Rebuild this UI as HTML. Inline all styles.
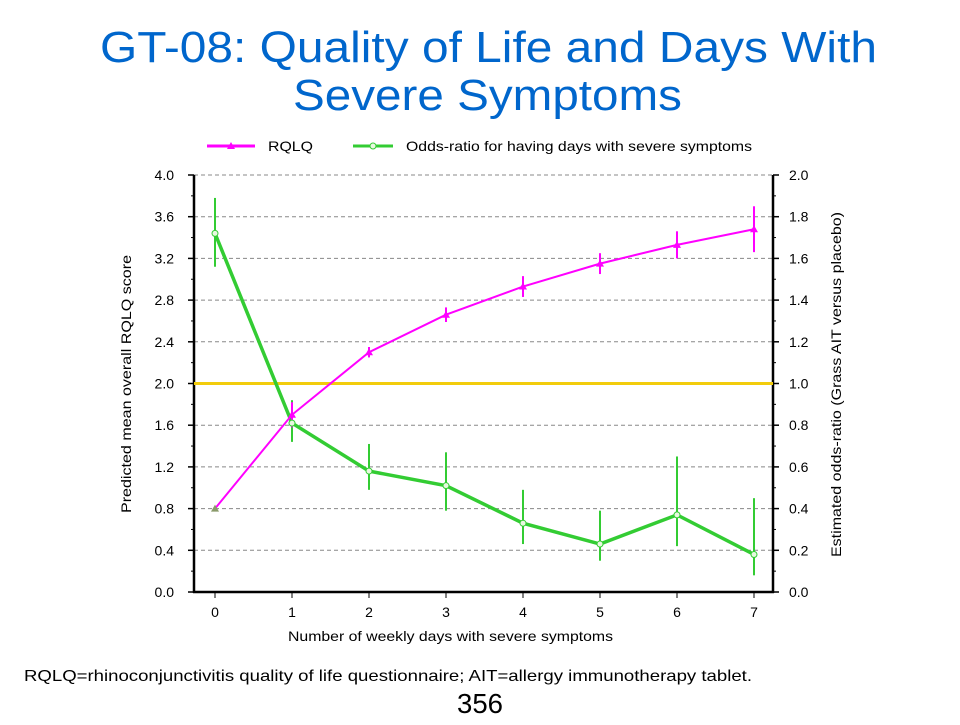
<!DOCTYPE html>
<html><head><meta charset="utf-8">
<style>
html,body{margin:0;padding:0;background:#fff;}
body{width:960px;height:720px;overflow:hidden;position:relative;font-family:"Liberation Sans",Arial,sans-serif;}
</style></head>
<body>
<svg id="chart" width="960" height="720" xmlns="http://www.w3.org/2000/svg" font-family="Liberation Sans, Arial, sans-serif">
<text x="100" y="62" font-size="44" fill="#0066CC" textLength="777" lengthAdjust="spacingAndGlyphs">GT-08: Quality of Life and Days With</text>
<text x="293" y="110" font-size="44" fill="#0066CC" textLength="389" lengthAdjust="spacingAndGlyphs">Severe Symptoms</text>
<g>
 <line x1="207" y1="146" x2="255" y2="146" stroke="#FF00FF" stroke-width="3"/>
 <polygon points="231,142 235,149 227,149" fill="#FF00FF"/>
 <text x="268" y="151" font-size="14" textLength="45" lengthAdjust="spacingAndGlyphs">RQLQ</text>
 <line x1="353" y1="146" x2="393" y2="146" stroke="#33CC33" stroke-width="3"/>
 <circle cx="373" cy="146" r="3" fill="#E8F8E0" stroke="#33CC33"/>
 <text x="406" y="151" font-size="14" textLength="346" lengthAdjust="spacingAndGlyphs">Odds-ratio for having days with severe symptoms</text>
</g>
<g id="grid"></g>
<g id="axes"></g>
<g id="marks"></g>
<text transform="translate(131,513) rotate(-90)" font-size="14" textLength="258" lengthAdjust="spacingAndGlyphs">Predicted mean overall RQLQ score</text>
<text transform="translate(841,557) rotate(-90)" font-size="14" textLength="345" lengthAdjust="spacingAndGlyphs">Estimated odds-ratio (Grass AIT  versus placebo)</text>
<text x="288" y="641" font-size="14" textLength="325" lengthAdjust="spacingAndGlyphs">Number of weekly days with severe symptoms</text>
<text x="24" y="681" font-size="16" textLength="728" lengthAdjust="spacingAndGlyphs">RQLQ=rhinoconjunctivitis quality of life questionnaire; AIT=allergy immunotherapy tablet.</text>
<text x="457" y="713" font-size="28" textLength="46" lengthAdjust="spacingAndGlyphs">356</text>
</svg>
<script>
const categories=[0,1,2,3,4,5,6,7];
const rqlq=[0.8,1.7,2.3,2.66,2.93,3.15,3.33,3.48];
const rqlqErr=[0,0.12,0.05,0.07,0.1,0.1,0.13,0.22];
const odds=[1.72,0.81,0.58,0.51,0.33,0.23,0.37,0.18];
const oddsLow=[1.56,0.72,0.49,0.39,0.23,0.15,0.22,0.08];
const oddsHigh=[1.89,0.92,0.71,0.67,0.49,0.39,0.65,0.45];
const leftTicks=["0.0","0.4","0.8","1.2","1.6","2.0","2.4","2.8","3.2","3.6","4.0"];
const rightTicks=["0.0","0.2","0.4","0.6","0.8","1.0","1.2","1.4","1.6","1.8","2.0"];
const refLine=1.0;

const NS="http://www.w3.org/2000/svg";
const L=194,R=773,T=175,B=592;
const x=c=>215+c*77;
const yl=v=>B-(v/4)*(B-T);
const yr=v=>B-(v/2)*(B-T);
function mk(tag,attrs,parent){const e=document.createElementNS(NS,tag);for(const k in attrs)e.setAttribute(k,attrs[k]);parent.appendChild(e);return e;}
const grid=document.getElementById('grid'),axes=document.getElementById('axes'),marks=document.getElementById('marks');

leftTicks.forEach((t,i)=>{
 const v=parseFloat(t),y=yl(v);
 if(i>0){const g=mk('line',{x1:L,x2:R,y1:y,y2:y,stroke:'#888','stroke-dasharray':'4,3','stroke-width':1},grid);
 
 }
 const tl=mk('text',{x:L-20,y:y+5,'text-anchor':'end','font-size':14},axes);tl.textContent=t;
 
 
 mk('line',{x1:L-6,x2:L,y1:y,y2:y,stroke:'#000','stroke-width':1.5},axes);
 mk('line',{x1:R,x2:R+6,y1:y,y2:y,stroke:'#000','stroke-width':1.5},axes);
 if(i<leftTicks.length-1){const ym=yl(v+0.2);
 mk('line',{x1:L-3,x2:L,y1:ym,y2:ym,stroke:'#000'},axes);
 mk('line',{x1:R,x2:R+3,y1:ym,y2:ym,stroke:'#000'},axes);}
});
rightTicks.forEach(t=>{
 const y=yr(parseFloat(t));
 const tl=mk('text',{x:R+16,y:y+5,'font-size':14},axes);tl.textContent=t;
 
 
});
categories.forEach(c=>{
 const tl=mk('text',{x:x(c),y:B+25,'text-anchor':'middle','font-size':14},axes);tl.textContent=c;
 
 
 mk('line',{x1:x(c),x2:x(c),y1:B,y2:B+6,stroke:'#000'},axes);
});
const la=mk('line',{x1:L,x2:L,y1:T,y2:B+1,stroke:'#000','stroke-width':2.5},axes);


const ra=mk('line',{x1:R,x2:R,y1:T,y2:B+1,stroke:'#000','stroke-width':2.5},axes);


const xa=mk('line',{x1:L-1,x2:R+1,y1:B,y2:B,stroke:'#000','stroke-width':2.5},axes);



const ref=mk('line',{x1:L,x2:R,y1:yr(refLine),y2:yr(refLine),stroke:'#F2CC0C','stroke-width':3},marks);



categories.forEach((c,i)=>{
 const e=mk('line',{x1:x(c),x2:x(c),y1:yr(oddsLow[i]),y2:yr(oddsHigh[i]),stroke:'#33CC33','stroke-width':2},marks);
 
 
});
const op=mk('polyline',{points:categories.map((c,i)=>x(c)+','+yr(odds[i])).join(' '),fill:'none',stroke:'#33CC33','stroke-width':3.5},marks);



categories.forEach((c,i)=>{
 if(rqlqErr[i]>0){const e=mk('line',{x1:x(c),x2:x(c),y1:yl(rqlq[i]-rqlqErr[i]),y2:yl(rqlq[i]+rqlqErr[i]),stroke:'#FF00FF','stroke-width':2},marks);
 
 }
});
const rp=mk('polyline',{points:categories.map((c,i)=>x(c)+','+yl(rqlq[i])).join(' '),fill:'none',stroke:'#FF00FF','stroke-width':2},marks);


categories.forEach((c,i)=>{
 const px=x(c),py=yl(rqlq[i]);
 const m=mk('polygon',{points:`${px},${py-4} ${px+4},${py+3} ${px-4},${py+3}`,fill:i===0?'#8A9A6A':'#FF00FF'},marks);
 
 
});
categories.forEach((c,i)=>{
 const m=mk('circle',{cx:x(c),cy:yr(odds[i]),r:3,fill:'#E8F8E0',stroke:'#33CC33','stroke-width':1},marks);
 
 
});
</script>
</body></html>
